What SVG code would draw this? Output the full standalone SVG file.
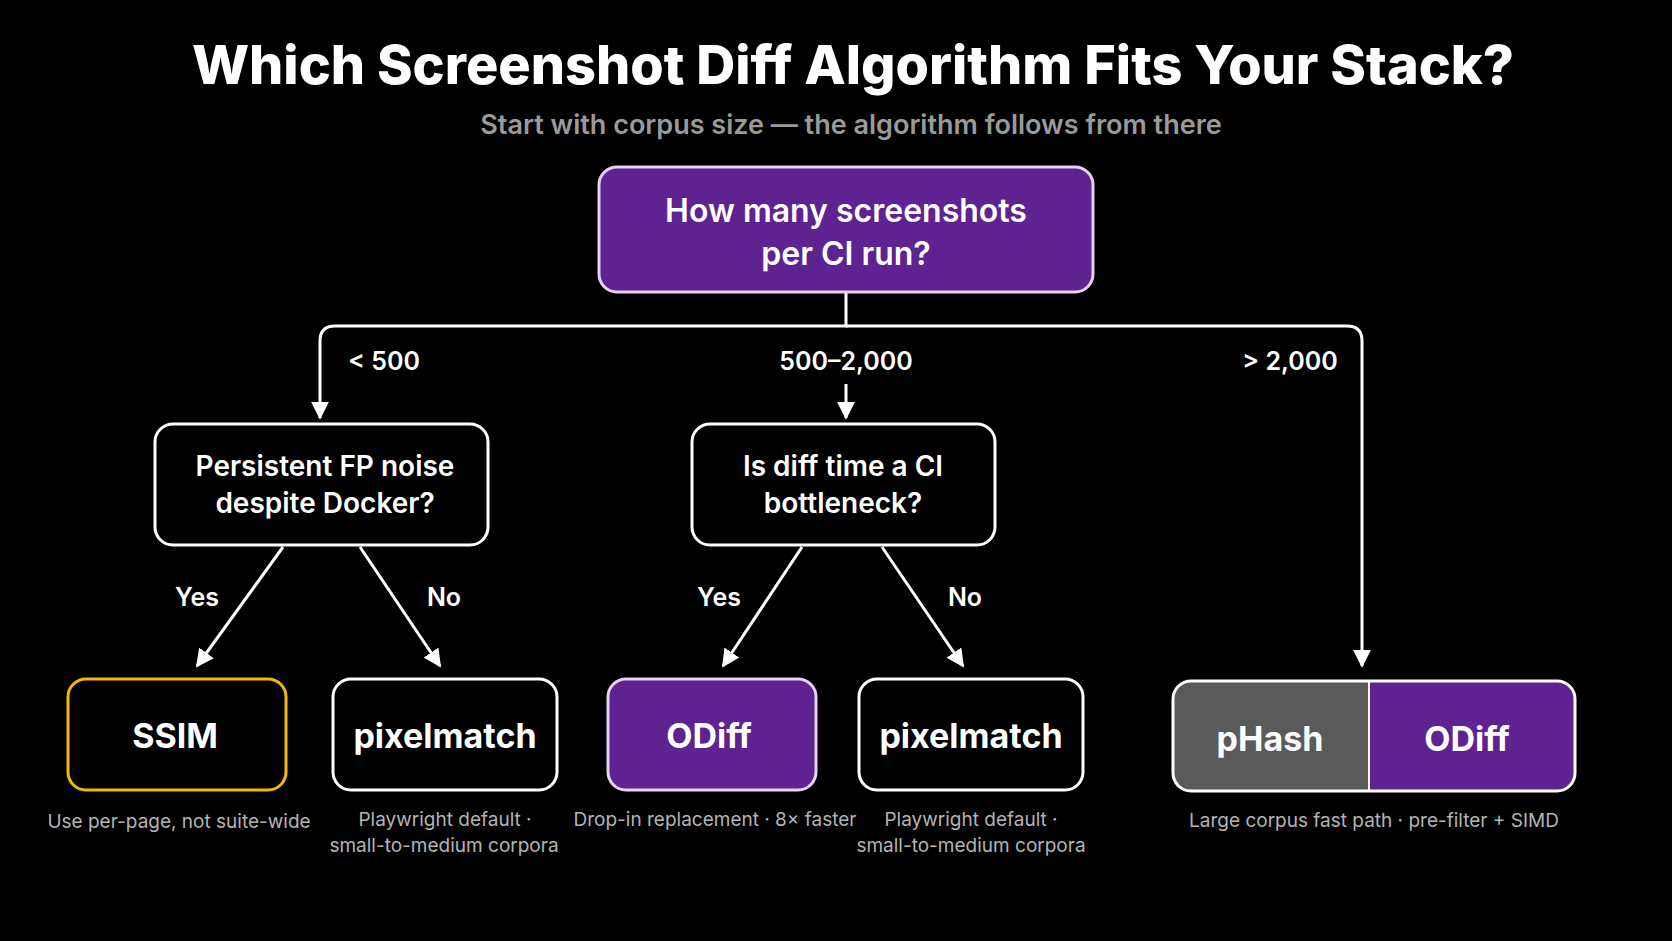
<svg xmlns="http://www.w3.org/2000/svg" width="1672" height="941" viewBox="0 0 1672 941">
<defs>
<marker id="ah" viewBox="0 0 10 10" refX="9" refY="5" markerWidth="6" markerHeight="6" orient="auto" markerUnits="strokeWidth"><path d="M0,0 L10,5 L0,10 z" fill="#fff"/></marker>
<style>
text{font-family:Inter,"Noto Sans","Liberation Sans",sans-serif;fill:#fff;text-anchor:middle;dominant-baseline:central}
.q{font-size:28px;font-weight:600}
.leaf{font-size:34px;font-weight:700}
.lbl{font-size:25px;font-weight:600}
.cap{font-size:19px;fill:#b4b4b4}
.box{fill:#000;stroke:#fff;stroke-width:3}
.pur{fill:#5e2390;stroke:#e6d0f5;stroke-width:3}
.con{fill:none;stroke:#fff;stroke-width:3;marker-end:url(#ah)}
</style>
</defs>
<rect width="1672" height="941" fill="#000"/>
<text x="853" y="64" style="font-size:54px;font-weight:800">Which Screenshot Diff Algorithm Fits Your Stack?</text>
<text x="851" y="124" style="font-size:27px;font-weight:600;fill:#9a9a9a">Start with corpus size — the algorithm follows from there</text>
<g id="connectors">
<path class="con" d="M846,292 V326 H335 Q320,326 320,341 V418"/>
<path class="con" d="M846,326 H1347 Q1362,326 1362,341 V666"/>
<path class="con" d="M846,384 V418"/>
<path class="con" d="M283,547 L197,666"/>
<path class="con" d="M360,547 L440,666"/>
<path class="con" d="M802,547 L723,666"/>
<path class="con" d="M882,547 L963,666"/>
<text class="lbl" x="384" y="361">&lt; 500</text>
<text class="lbl" x="846" y="361">500–2,000</text>
<text class="lbl" x="1290" y="361">&gt; 2,000</text>
<text class="lbl" x="197" y="597">Yes</text>
<text class="lbl" x="444" y="597">No</text>
<text class="lbl" x="719" y="597">Yes</text>
<text class="lbl" x="965" y="597">No</text>
</g>
<g id="root"><rect class="pur" x="599" y="167" width="494" height="125" rx="18"/>
<text x="846" y="210" style="font-size:32px;font-weight:600">How many screenshots</text>
<text x="846" y="253" style="font-size:32px;font-weight:600">per CI run?</text></g>
<g id="q1"><rect class="box" x="155" y="424" width="333" height="121" rx="18"/>
<text class="q" x="325" y="466">Persistent FP noise</text>
<text class="q" x="325" y="503">despite Docker?</text></g>
<g id="q2"><rect class="box" x="692" y="424" width="303" height="121" rx="18"/>
<text class="q" x="843" y="466">Is diff time a CI</text>
<text class="q" x="843" y="503">bottleneck?</text></g>
<g id="ssim"><rect x="68" y="679" width="218" height="111" rx="18" fill="#000" stroke="#f5b800" stroke-width="3"/>
<text class="leaf" x="175" y="735">SSIM</text>
<text class="cap" x="179" y="821">Use per-page, not suite-wide</text></g>
<g id="pm1"><rect class="box" x="333" y="679" width="224" height="111" rx="18"/>
<text class="leaf" x="445" y="735">pixelmatch</text>
<text class="cap" x="445" y="819">Playwright default ·</text>
<text class="cap" x="444" y="845">small-to-medium corpora</text></g>
<g id="odiff1"><rect class="pur" x="608" y="679" width="208" height="111" rx="18"/>
<text class="leaf" x="709" y="735">ODiff</text>
<text class="cap" x="715" y="819">Drop-in replacement · 8× faster</text></g>
<g id="pm2"><rect class="box" x="859" y="679" width="224" height="111" rx="18"/>
<text class="leaf" x="971" y="735">pixelmatch</text>
<text class="cap" x="971" y="819">Playwright default ·</text>
<text class="cap" x="971" y="845">small-to-medium corpora</text></g>
<g id="combo">
<path d="M1369,681 H1191 Q1173,681 1173,699 V773 Q1173,791 1191,791 H1369 Z" fill="#5a5a5a"/>
<path d="M1369,681 H1557 Q1575,681 1575,699 V773 Q1575,791 1557,791 H1369 Z" fill="#5e2390"/>
<rect x="1173" y="681" width="402" height="110" rx="18" fill="none" stroke="#fff" stroke-width="3"/>
<line x1="1369" y1="681" x2="1369" y2="791" stroke="#fff" stroke-width="2"/>
<text class="leaf" x="1270" y="738">pHash</text>
<text class="leaf" x="1467" y="738">ODiff</text>
<text class="cap" x="1374" y="820">Large corpus fast path  ·  pre-filter + SIMD</text></g>
</svg>
